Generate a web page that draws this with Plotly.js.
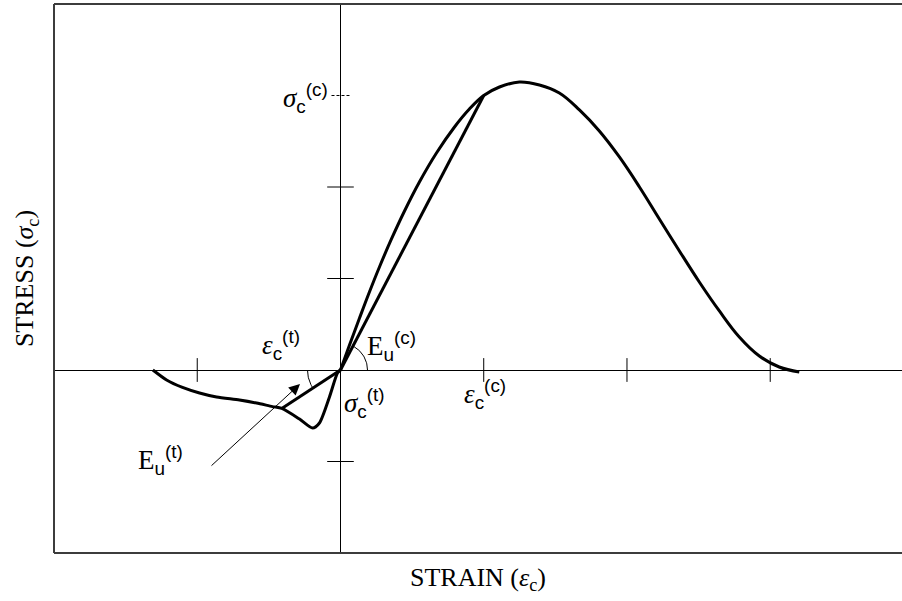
<!DOCTYPE html>
<html>
<head>
<meta charset="utf-8">
<script src="https://cdn.plot.ly/plotly-3.0.1.min.js"></script>
<style>
  html, body { margin: 0; padding: 0; background: #fff; }
  #chart { width: 902px; height: 601px; }
</style>
</head>
<body>
<div id="chart"></div>
<script>
// Compression branch: rising envelope, peak and softening tail
const compStrain = [0, 0.063, 0.133, 0.202, 0.272, 0.356, 0.447, 0.551, 0.670, 0.796, 0.900, 1.0, 1.110, 1.249, 1.389, 1.528, 1.668, 1.807, 1.947, 2.087, 2.226, 2.366, 2.505, 2.645, 2.784, 2.924, 3.063, 3.203];
const compStress = [0, 0.273, 0.568, 0.852, 1.126, 1.432, 1.738, 2.055, 2.372, 2.656, 2.852, 3.0, 3.093, 3.148, 3.115, 3.027, 2.842, 2.612, 2.328, 2.000, 1.650, 1.301, 0.962, 0.645, 0.361, 0.153, 0.033, -0.022];

// Tension branch: dip below the axis and recovery back to zero stress
const tensStrain = [0, -0.021, -0.077, -0.147, -0.195, -0.286, -0.41, -0.475, -0.586, -0.705, -0.865, -0.984, -1.103, -1.214, -1.31];
const tensStress = [0, -0.033, -0.295, -0.579, -0.634, -0.536, -0.42, -0.40, -0.361, -0.328, -0.295, -0.251, -0.190, -0.109, 0];

// Secant moduli: origin to the characteristic points
const secCompStrain = [0, 1.0];
const secCompStress = [0, 3.0];
const secTensStrain = [0, -0.41];
const secTensStress = [0, -0.42];

// Tick positions on the crossing axes
const strainTicks = [-1, 1, 2, 3];
const stressTicks = [-1, 1, 2];
const peakStressTick = [3];

const X_RANGE = [-2, 3.92];
const Y_RANGE = [-2, 4];
const M = { l: 54, r: 0, t: 4, b: 48 };
const PLOT_W = 902 - M.l - M.r;
const PLOT_H = 601 - M.t - M.b;
const pxX = PLOT_W / (X_RANGE[1] - X_RANGE[0]);
const pxY = PLOT_H / (Y_RANGE[1] - Y_RANGE[0]);

// small angle arc about the origin, radius in screen pixels
function angleArc(a0, a1, rPx) {
  const xs = [], ys = [];
  const n = 24;
  for (let i = 0; i <= n; i++) {
    const a = a0 + (a1 - a0) * i / n;
    xs.push(rPx * Math.cos(a) / pxX);
    ys.push(rPx * Math.sin(a) / pxY);
  }
  return { xs, ys };
}
const angC = Math.atan2(secCompStress[1] * pxY, secCompStrain[1] * pxX);
const angT = Math.atan2(secTensStress[1] * pxY, secTensStrain[1] * pxX) + 2 * Math.PI;
const arcC = angleArc(0, angC, 27);
const arcT = angleArc(Math.PI, angT, 33);

const halfTickX = 9 / pxX;
const dashedTick = {
  x: [-halfTickX, halfTickX],
  y: [peakStressTick[0], peakStressTick[0]]
};

const curveLine = { color: '#000', width: 3 };

const traces = [
  { x: compStrain, y: compStress, mode: 'lines', line: Object.assign({ shape: 'spline', smoothing: 1.1 }, curveLine), hoverinfo: 'skip' },
  { x: tensStrain, y: tensStress, mode: 'lines', line: Object.assign({ shape: 'spline', smoothing: 0.7 }, curveLine), hoverinfo: 'skip' },
  { x: secCompStrain, y: secCompStress, mode: 'lines', line: { color: '#000', width: 3 }, hoverinfo: 'skip' },
  { x: secTensStrain, y: secTensStress, mode: 'lines', line: { color: '#000', width: 3 }, hoverinfo: 'skip' },
  { x: arcC.xs, y: arcC.ys, mode: 'lines', line: { color: '#000', width: 1 }, hoverinfo: 'skip' },
  { x: arcT.xs, y: arcT.ys, mode: 'lines', line: { color: '#000', width: 1 }, hoverinfo: 'skip' },
  { x: strainTicks, y: strainTicks.map(() => 0), mode: 'markers',
    marker: { symbol: 'line-ns-open', size: 17, color: '#000', line: { color: '#000', width: 1 } }, hoverinfo: 'skip' },
  { x: stressTicks.map(() => 0), y: stressTicks, mode: 'markers',
    marker: { symbol: 'line-ew-open', size: 19, color: '#000', line: { color: '#000', width: 1 } }, hoverinfo: 'skip' },
  { x: dashedTick.x, y: dashedTick.y, mode: 'lines', line: { color: '#000', width: 1, dash: '3px,2px' }, hoverinfo: 'skip' }
];

const SERIF = 'Liberation Serif';
function sym(main, sub, sup) {
  return main +
    '<sub><span style="font-family:Liberation Sans">' + sub + '</span></sub>' +
    '<sup><span style="font-family:Liberation Sans">(' + sup + ')</span></sup>';
}
const px2x = p => (p - (M.l - X_RANGE[0] * pxX)) / pxX;
const px2y = p => ((M.t + Y_RANGE[1] * pxY) - p) / pxY;

function label(text, cx, cy) {
  return { text, x: px2x(cx), y: px2y(cy), xref: 'x', yref: 'y', showarrow: false,
           xanchor: 'center', yanchor: 'middle', font: { family: SERIF, size: 27, color: '#000' } };
}

const annotations = [
  label(sym('<i>σ</i>', 'c', 'c'), 305, 98),
  label(sym('<i>ε</i>', 'c', 't'), 281, 345),
  label(sym('E', 'u', 'c'), 391, 346),
  label(sym('<i>σ</i>', 'c', 't'), 364, 403),
  label(sym('<i>ε</i>', 'c', 'c'), 485, 394),
  label(sym('E', 'u', 't'), 160, 460),
  { text: '', x: px2x(300), y: px2y(384), xref: 'x', yref: 'y', showarrow: true,
    ax: -90, ay: 83, arrowhead: 2, arrowsize: 2.2, arrowwidth: 1, arrowcolor: '#000' }
];

const frame = { color: '#3c3c3c', width: 2 };
const shapes = [
  { type: 'line', xref: 'paper', yref: 'paper', x0: 0, x1: 0, y0: 0, y1: 1, line: frame },
  { type: 'line', xref: 'paper', yref: 'paper', x0: 0, x1: 1, y0: 1, y1: 1, line: frame },
  { type: 'line', xref: 'paper', yref: 'paper', x0: 0, x1: 1, y0: 0, y1: 0, line: frame }
];

const layout = {
  width: 902, height: 601,
  margin: M,
  paper_bgcolor: '#fff', plot_bgcolor: '#fff',
  showlegend: false,
  xaxis: {
    range: X_RANGE, showgrid: false, showticklabels: false, ticks: '',
    zeroline: true, zerolinecolor: '#000', zerolinewidth: 1, showline: false,
    title: { text: 'STRAIN (<i>ε</i><sub>c</sub>)', font: { family: SERIF, size: 26, color: '#000' }, standoff: 14 }
  },
  yaxis: {
    range: Y_RANGE, showgrid: false, showticklabels: false, ticks: '',
    zeroline: true, zerolinecolor: '#000', zerolinewidth: 1, showline: false,
    title: { text: 'STRESS (<i>σ</i><sub>c</sub>)', font: { family: SERIF, size: 26, color: '#000' }, standoff: 11 }
  },
  annotations, shapes
};

Plotly.newPlot('chart', traces, layout, { staticPlot: true, displayModeBar: false });
</script>
</body>
</html>
